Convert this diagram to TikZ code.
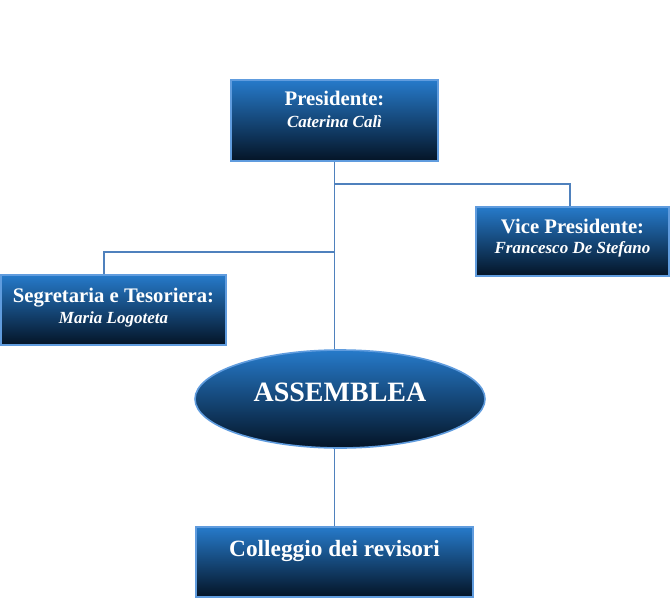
\documentclass[tikz,border=0pt]{standalone}
\usepackage{fontspec}
\setmainfont{Liberation Serif}
\usetikzlibrary{shapes.geometric}
\definecolor{boxtop}{RGB}{38,122,202}
\definecolor{boxbot}{RGB}{4,20,38}
\definecolor{boxrim}{RGB}{96,156,222}
\definecolor{linkblue}{RGB}{79,129,189}
\tikzset{
  orgbox/.style={draw=boxrim, line width=1.6pt, top color=boxtop, bottom color=boxbot,
    text=white, inner sep=0pt, font=\bfseries},
  link/.style={draw=linkblue, line width=1.4pt},
}
\begin{document}
\begin{tikzpicture}[x=1pt,y=-1pt]
  \useasboundingbox (0,0) rectangle (671,599);
  % boxes
  \node[orgbox, minimum width=207pt, text height=26pt, text depth=55pt] (pres) at (334.5,120.5)
    {\fontsize{20.7}{21}\selectfont\begin{tabular}[t]{@{}c@{}}Presidente:\\
     \fontsize{17}{21}\selectfont\itshape Caterina Calì\end{tabular}};
  \node[orgbox, minimum width=193pt, text height=26pt, text depth=43pt] (vice) at (572.5,241.5)
    {\fontsize{20.7}{20.5}\selectfont\begin{tabular}[t]{@{}c@{}}Vice Presidente:\\
     \fontsize{17}{20.5}\selectfont\itshape Francesco De Stefano\end{tabular}};
  \node[orgbox, minimum width=225pt, text height=27pt, text depth=43pt] (segr) at (113.5,310)
    {\fontsize{20.7}{21}\selectfont\begin{tabular}[t]{@{}c@{}}Segretaria e Tesoriera:\\
     \fontsize{17}{21}\selectfont\itshape Maria Logoteta\end{tabular}};
  \node[orgbox, ellipse, minimum width=290pt, minimum height=98pt, text height=19pt, text depth=15pt]
    (ass) at (340,399) {\fontsize{28}{30}\selectfont ASSEMBLEA};
  \node[orgbox, minimum width=277pt, text height=29pt, text depth=41pt] (coll) at (334.5,562)
    {\fontsize{23.3}{25}\selectfont Colleggio dei revisori};
  % connectors
  \coordinate (jv) at (334,184);
  \coordinate (js) at (334,252);
  \draw[link] (pres.south) -- (pres.south |- ass.north);
  \draw[link] (jv) -| ([xshift=-2.5pt]vice.north);
  \draw[link] (js) -| ([xshift=-9.5pt]segr.north);
  \draw[link] (coll.north) -- (coll.north |- ass.south);
\end{tikzpicture}
\end{document}
